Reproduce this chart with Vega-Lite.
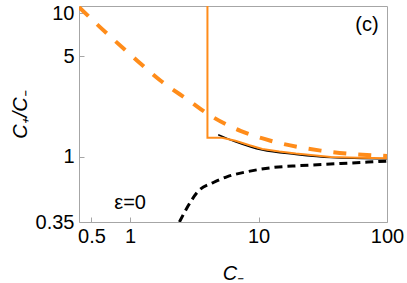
{
  "$schema": "https://vega.github.io/schema/vega-lite/v6.json",
  "width": 308,
  "height": 216,
  "autosize": "none",
  "padding": {"left": 79, "top": 6, "right": 20, "bottom": 61},
  "config": {
    "view": {"stroke": "#a6a6a6", "strokeWidth": 1},
    "font": "Liberation Sans",
    "axis": {
      "grid": false,
      "domain": false,
      "tickColor": "#a6a6a6",
      "tickSize": -5,
      "labelFlush": false,
      "labelOverlap": false,
      "labelFontSize": 20,
      "labelColor": "black",
      "labelFont": "Liberation Sans",
      "titleFont": "Liberation Sans",
      "titleFontSize": 20,
      "titleFontWeight": "normal",
      "titleFontStyle": "italic",
      "titleColor": "black"
    }
  },
  "datasets": {
    "curves": [
      {"s": "bs", "x": 4.85, "y": 1.42},
      {"s": "bs", "x": 6.6, "y": 1.27},
      {"s": "bs", "x": 10.7, "y": 1.11},
      {"s": "bs", "x": 19.5, "y": 1.035},
      {"s": "bs", "x": 36.5, "y": 0.985},
      {"s": "bs", "x": 100, "y": 0.965},
      {"s": "os", "x": 4.0, "y": 11.2},
      {"s": "os", "x": 4.0, "y": 1.35},
      {"s": "os", "x": 5.2, "y": 1.35},
      {"s": "os", "x": 6.6, "y": 1.29},
      {"s": "os", "x": 8.5, "y": 1.2},
      {"s": "os", "x": 10.7, "y": 1.13},
      {"s": "os", "x": 14.5, "y": 1.085},
      {"s": "os", "x": 19.5, "y": 1.05},
      {"s": "os", "x": 36.5, "y": 0.995},
      {"s": "os", "x": 60, "y": 0.982},
      {"s": "os", "x": 100, "y": 0.975},
      {"s": "od", "x": 0.4, "y": 11.0},
      {"s": "od", "x": 0.583, "y": 7.98},
      {"s": "od", "x": 1.0, "y": 5.16},
      {"s": "od", "x": 1.72, "y": 3.39},
      {"s": "od", "x": 2.94, "y": 2.42},
      {"s": "od", "x": 4.0, "y": 1.99},
      {"s": "od", "x": 7.23, "y": 1.51},
      {"s": "od", "x": 12.4, "y": 1.29},
      {"s": "od", "x": 30.5, "y": 1.1},
      {"s": "od", "x": 100, "y": 1.01},
      {"s": "bd", "x": 2.42, "y": 0.35},
      {"s": "bd", "x": 2.94, "y": 0.48},
      {"s": "bd", "x": 3.34, "y": 0.565},
      {"s": "bd", "x": 4.45, "y": 0.66},
      {"s": "bd", "x": 5.72, "y": 0.725},
      {"s": "bd", "x": 8.2, "y": 0.785},
      {"s": "bd", "x": 13.1, "y": 0.84},
      {"s": "bd", "x": 21.3, "y": 0.865},
      {"s": "bd", "x": 43.7, "y": 0.895},
      {"s": "bd", "x": 100, "y": 0.93}
    ],
    "labels": [
      {"t": "ε=0", "x": 1.0, "y": 0.474},
      {"t": "(c)", "x": 69.8, "y": 8.24}
    ]
  },
  "encoding": {
    "x": {
      "field": "x", "type": "quantitative",
      "scale": {"type": "log", "domain": [0.4, 100], "nice": false},
      "axis": {"values": [0.5, 1, 10, 100], "title": "C₋", "labelPadding": 9, "titlePadding": 17, "format": "~g"}
    },
    "y": {
      "field": "y", "type": "quantitative",
      "scale": {"type": "log", "domain": [0.35, 11.2], "nice": false},
      "axis": {"values": [0.35, 1, 5, 10], "title": "C₊/C₋", "labelPadding": 10, "titlePadding": 5, "format": "~g"}
    }
  },
  "layer": [
    {
      "data": {"name": "curves"},
      "transform": [{"filter": "datum.s === 'bs'"}],
      "mark": {"type": "line", "color": "black", "strokeWidth": 1.5, "interpolate": "monotone", "clip": true}
    },
    {
      "data": {"name": "curves"},
      "transform": [{"filter": "datum.s === 'bd'"}],
      "mark": {"type": "line", "color": "black", "strokeWidth": 3, "strokeDash": [8, 5], "interpolate": "monotone", "clip": true}
    },
    {
      "data": {"name": "curves"},
      "transform": [{"filter": "datum.s === 'os'"}],
      "mark": {"type": "line", "color": "#ff8c1a", "strokeWidth": 2, "interpolate": "linear", "clip": true}
    },
    {
      "data": {"name": "curves"},
      "transform": [{"filter": "datum.s === 'od'"}],
      "mark": {"type": "line", "color": "#ff8c1a", "strokeWidth": 4, "strokeDash": [13, 12], "interpolate": "monotone", "clip": true}
    },
    {
      "data": {"name": "labels"},
      "mark": {"type": "text", "fontSize": 20, "font": "Liberation Sans", "color": "black", "align": "center", "baseline": "middle"},
      "encoding": {"text": {"field": "t"}}
    }
  ]
}
